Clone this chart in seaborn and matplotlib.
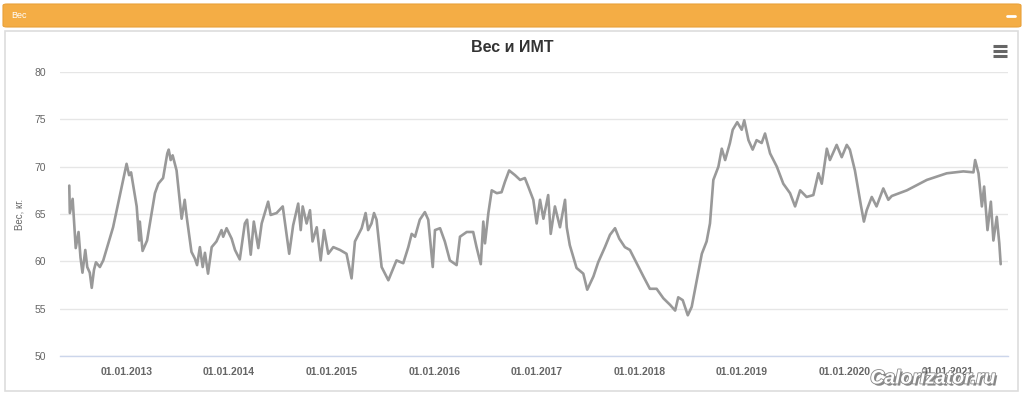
import pandas as pd
import numpy as np
import matplotlib
matplotlib.use("Agg")
import matplotlib.pyplot as plt
import matplotlib.dates as mdates
import matplotlib.patheffects as pe
from matplotlib.patches import FancyBboxPatch, Rectangle
from matplotlib.lines import Line2D
import seaborn as sns

# weight log
dates = [
    "2012-06-11", "2012-06-13", "2012-06-23", "2012-07-04", "2012-07-14", "2012-07-21",
    "2012-07-28", "2012-08-07", "2012-08-14", "2012-08-23", "2012-08-30", "2012-09-07",
    "2012-09-14", "2012-09-28", "2012-10-10", "2012-11-14", "2013-01-01", "2013-01-10",
    "2013-01-17", "2013-02-06", "2013-02-15", "2013-02-17", "2013-02-27", "2013-03-15",
    "2013-04-12", "2013-04-24", "2013-05-11", "2013-05-26", "2013-05-31", "2013-06-07",
    "2013-06-14", "2013-06-28", "2013-07-16", "2013-07-27", "2013-08-03", "2013-08-20",
    "2013-09-01", "2013-09-09", "2013-09-19", "2013-09-29", "2013-10-07", "2013-10-18",
    "2013-10-31", "2013-11-17", "2013-12-05", "2013-12-11", "2013-12-23", "2014-01-10",
    "2014-01-22", "2014-02-08", "2014-02-26", "2014-03-06", "2014-03-19", "2014-03-30",
    "2014-04-15", "2014-04-27", "2014-05-20", "2014-05-29", "2014-06-19", "2014-07-11",
    "2014-08-03", "2014-08-17", "2014-09-04", "2014-09-13", "2014-09-20", "2014-10-04",
    "2014-10-16", "2014-10-25", "2014-11-09", "2014-11-23", "2014-12-05", "2014-12-20",
    "2015-01-07", "2015-01-31", "2015-02-23", "2015-03-13", "2015-03-25", "2015-04-18",
    "2015-05-02", "2015-05-11", "2015-05-23", "2015-06-01", "2015-06-10", "2015-06-28",
    "2015-07-22", "2015-08-20", "2015-09-13", "2015-10-01", "2015-10-13", "2015-10-25",
    "2015-11-11", "2015-11-29", "2015-12-11", "2015-12-27", "2016-01-04", "2016-01-22",
    "2016-02-08", "2016-02-26", "2016-03-21", "2016-04-02", "2016-04-26", "2016-05-19",
    "2016-05-31", "2016-06-15", "2016-06-24", "2016-06-30", "2016-07-12", "2016-07-24",
    "2016-08-11", "2016-08-28", "2016-09-09", "2016-09-24", "2016-10-15", "2016-11-02",
    "2016-11-19", "2016-12-01", "2016-12-19", "2016-12-31", "2017-01-12", "2017-01-24",
    "2017-02-10", "2017-02-19", "2017-03-06", "2017-03-24", "2017-04-11", "2017-04-17",
    "2017-04-28", "2017-05-22", "2017-06-15", "2017-06-29", "2017-07-21", "2017-08-07",
    "2017-08-31", "2017-09-18", "2017-10-06", "2017-10-21", "2017-11-10", "2017-11-28",
    "2017-12-22", "2018-01-15", "2018-02-07", "2018-03-03", "2018-03-27", "2018-04-20",
    "2018-05-08", "2018-05-19", "2018-06-04", "2018-06-22", "2018-07-06", "2018-07-24",
    "2018-08-11", "2018-08-28", "2018-09-09", "2018-09-21", "2018-10-09", "2018-10-21",
    "2018-11-02", "2018-11-19", "2018-11-29", "2018-12-15", "2018-12-31", "2019-01-09",
    "2019-01-24", "2019-02-08", "2019-02-22", "2019-03-12", "2019-03-24", "2019-04-11",
    "2019-05-05", "2019-05-28", "2019-06-21", "2019-07-09", "2019-07-27", "2019-08-19",
    "2019-09-12", "2019-09-30", "2019-10-12", "2019-10-30", "2019-11-10", "2019-12-04",
    "2019-12-22", "2020-01-09", "2020-01-20", "2020-02-07", "2020-02-19", "2020-02-29",
    "2020-03-10", "2020-03-20", "2020-04-07", "2020-04-24", "2020-05-18", "2020-06-05",
    "2020-06-17", "2020-08-10", "2020-10-20", "2020-12-30", "2021-02-27", "2021-04-04",
    "2021-04-10", "2021-04-22", "2021-05-04", "2021-05-12", "2021-05-24", "2021-06-05",
    "2021-06-14", "2021-06-26", "2021-07-05", "2021-07-10",
]
weights = [
    68.0, 65.1, 66.6, 61.4, 63.1, 60.4,
    58.8, 61.2, 59.4, 58.8, 57.2, 59.1,
    59.9, 59.4, 60.1, 63.6, 70.3, 69.1,
    69.4, 65.8, 62.2, 64.2, 61.1, 62.2,
    67.2, 68.2, 68.8, 71.4, 71.8, 70.7,
    71.2, 69.6, 64.5, 66.5, 64.7, 61.0,
    60.3, 59.6, 61.5, 59.4, 60.9, 58.7,
    61.5, 62.1, 63.3, 62.6, 63.5, 62.4,
    61.2, 60.2, 64.0, 64.4, 60.7, 64.2,
    61.4, 64.0, 66.3, 64.9, 65.1, 65.8,
    60.8, 63.8, 66.1, 63.3, 65.8, 64.0,
    65.4, 62.1, 63.6, 60.1, 63.3, 60.8,
    61.5, 61.2, 60.8, 58.2, 62.1, 63.5,
    65.1, 63.3, 64.0, 65.1, 64.4, 59.4,
    58.0, 60.1, 59.8, 61.5, 62.9, 62.6,
    64.4, 65.2, 64.4, 59.4, 63.3, 63.5,
    62.1, 60.1, 59.6, 62.6, 63.1, 63.1,
    61.5, 59.7, 64.2, 61.9, 65.1, 67.5,
    67.2, 67.3, 68.4, 69.6, 69.1, 68.6,
    68.8, 67.9, 66.5, 64.0, 66.5, 64.5,
    67.0, 62.9, 65.8, 63.6, 66.5, 63.6,
    61.7, 59.3, 58.7, 57.0, 58.4, 59.9,
    61.5, 62.8, 63.5, 62.4, 61.5, 61.2,
    59.8, 58.4, 57.1, 57.1, 56.1, 55.4,
    54.8, 56.2, 55.9, 54.3, 55.2, 58.0,
    60.8, 62.1, 64.0, 68.6, 70.0, 71.9,
    70.7, 72.5, 73.9, 74.7, 73.9, 74.9,
    72.8, 71.8, 72.8, 72.5, 73.5, 71.4,
    70.0, 68.2, 67.2, 65.8, 67.5, 66.8,
    67.0, 69.3, 68.2, 71.9, 70.7, 72.3,
    71.0, 72.3, 71.8, 69.6, 67.5, 65.8,
    64.2, 65.4, 66.8, 65.8, 67.7, 66.5,
    66.9, 67.5, 68.6, 69.3, 69.5, 69.4,
    70.7, 69.3, 65.8, 67.9, 63.3, 66.3,
    62.2, 64.7, 61.9, 59.7,
]

year_ticks = ["2013-01-01", "2014-01-01", "2015-01-01", "2016-01-01", "2017-01-01",
              "2018-01-01", "2019-01-01", "2020-01-01", "2021-01-01"]
y_ticks = [50, 55, 60, 65, 70, 75, 80]

df = pd.DataFrame({"date": pd.to_datetime(dates), "weight": weights})

sns.set_theme(style="white")
plt.rcParams["font.family"] = ["Liberation Sans", "DejaVu Sans"]

W, H = 1024, 401
fig = plt.figure(figsize=(W / 100, H / 100), dpi=100)
fig.patch.set_facecolor("white")

# panel border and orange header (behind the axes)
fig.add_artist(Rectangle((5 / W, 1 - 391 / H), 1013 / W, 360 / H, transform=fig.transFigure,
                         facecolor="white", edgecolor="#dddddd", linewidth=1.2, zorder=-10))
fig.add_artist(FancyBboxPatch((3 / W, 1 - 27 / H), 1018 / W, 23 / H, transform=fig.transFigure,
                              boxstyle="round,pad=0,rounding_size=0.004",
                              facecolor="#f4ad45", edgecolor="#e9a13a", linewidth=0.8, zorder=-10))
fig.text(11 / W, 1 - 15.5 / H, "Вес", color="white", fontsize=6.5, va="center", ha="left")
fig.add_artist(Line2D([1007 / W, 1015 / W], [1 - 16 / H, 1 - 16 / H], transform=fig.transFigure,
                      color="white", linewidth=2))

ax = fig.add_axes([60 / W, 1 - 356 / H, 948 / W, 284 / H])
ax.set_facecolor("none")
sns.lineplot(data=df, x="date", y="weight", ax=ax, color="#999999", linewidth=1.9)

ax.set_xlim(pd.Timestamp("2012-05-09"), pd.Timestamp("2021-08-05"))
ax.set_ylim(50, 80)
ax.set_yticks(y_ticks)
ax.set_xticks(pd.to_datetime(year_ticks))
ax.xaxis.set_major_formatter(mdates.DateFormatter("%d.%m.%Y"))
ax.grid(axis="y", color="#e6e6e6", linewidth=1)
ax.grid(axis="x", visible=False)
for s in ["top", "right", "left"]:
    ax.spines[s].set_visible(False)
ax.spines["bottom"].set_color("#ccd6eb")
ax.spines["bottom"].set_linewidth(1)
ax.tick_params(axis="x", colors="#ccd6eb", length=6, width=1, direction="out", pad=2,
               labelcolor="#666666", labelsize=7.5)
ax.tick_params(axis="y", length=0, pad=10, labelcolor="#666666", labelsize=7.5)
for t in ax.get_xticklabels():
    t.set_fontweight("bold")
ax.set_xlabel("")
ax.set_ylabel("Вес, кг.", color="#666666", fontsize=7)
ax.yaxis.set_label_coords(-36 / 948, 0.5)

fig.text(512 / W, 1 - 47 / H, "Вес и ИМТ", ha="center", va="center", fontsize=11.5,
         fontweight="bold", color="#333333")

# menu icon
for yy in (46, 51, 56):
    fig.add_artist(Line2D([993 / W, 1007 / W], [1 - yy / H, 1 - yy / H], transform=fig.transFigure,
                          color="#666666", linewidth=2.2, solid_capstyle="butt"))

# watermark
fig.text(933 / W, 1 - 379 / H, "Calorizator.ru", ha="center", va="center", fontsize=14,
         fontweight="bold", fontstyle="italic", color="white",
         path_effects=[pe.withSimplePatchShadow(offset=(1.5, -1.5), shadow_rgbFace="#555555", alpha=0.7),
                       pe.Stroke(linewidth=1.2, foreground="#888888"), pe.Normal()])

fig.savefig("out.png", dpi=100)
